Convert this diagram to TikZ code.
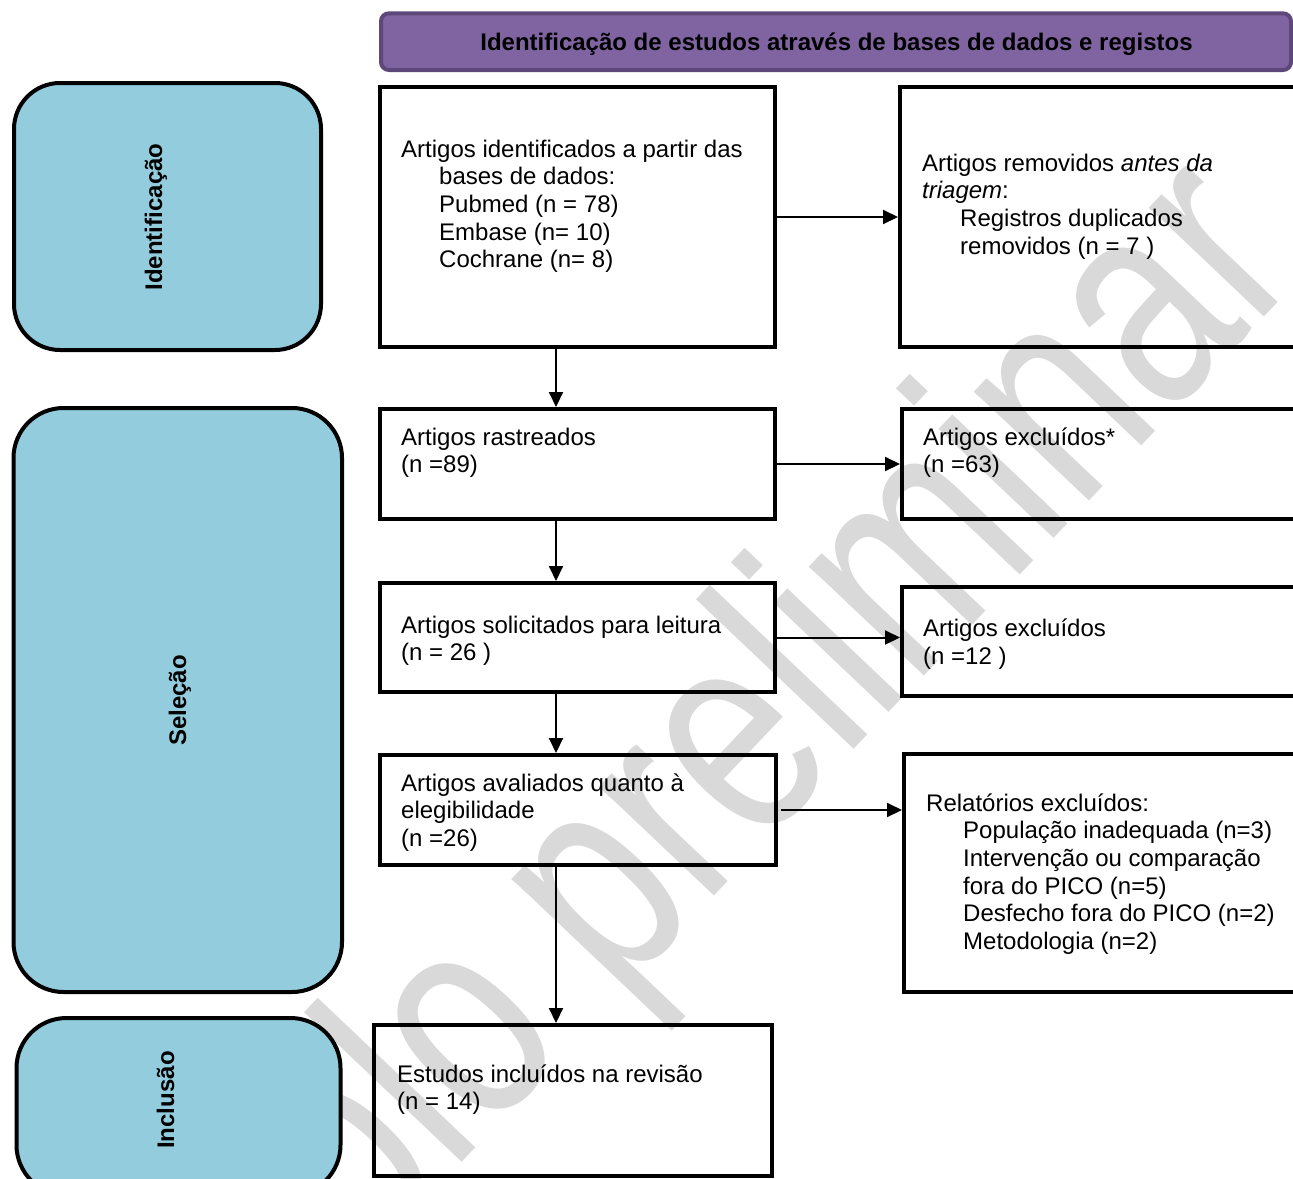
\documentclass[tikz,border=0pt]{standalone}
\usepackage{fontspec}
\usepackage{graphicx}
\setmainfont{Liberation Sans}
\usetikzlibrary{arrows.meta}
\definecolor{bluebox}{RGB}{147,205,221}
\definecolor{purplebox}{RGB}{128,100,162}
\definecolor{purpleline}{RGB}{94,72,122}
\definecolor{wmgray}{RGB}{217,217,217}
\begin{document}
\begin{tikzpicture}[x=1pt,y=-1pt,
  wbox/.style={draw=black, line width=4pt, inner sep=0pt},
  bbox/.style={draw=black, fill=bluebox, line width=4pt, rounded corners=46pt, inner sep=0pt},
  txt/.style={inner sep=0pt, anchor=base west, align=left, font=\fontsize{24}{27.7}\selectfont},
  lbl/.style={inner sep=0pt, anchor=base, rotate=90, font=\fontsize{24}{28}\selectfont\bfseries},
  arr/.style={draw=black, line width=2pt, -{Triangle[length=15pt,width=14pt]}},
  wm/.style={inner sep=0pt, text=wmgray, font=\fontsize{300}{300}\selectfont}
]
\useasboundingbox (0,0) rectangle (1293,1178);
\clip (0,0) rectangle (1293,1178);

% watermark
\node[wm, rotate=46.5, anchor=base east] (wmk) at (1306,273) {\scalebox{0.76}[1]{Protocolo preliminar}};

% header
\node[draw=purpleline, fill=purplebox, line width=4pt, rounded corners=8pt,
      minimum width=910pt, minimum height=56.7pt, inner sep=0pt] (hdr) at (836,41.65) {};
\node[inner sep=0pt, anchor=base, font=\fontsize{24}{28}\selectfont\bfseries] (hdrt) at (836.5,50)
  {Identificação de estudos através de bases de dados e registos};

% phase boxes
\node[bbox, minimum width=307pt, minimum height=267pt] (ident) at (167.5,216.5) {};
\node[lbl] (identl) at (162,217) {Identificação};
\node[bbox, rounded corners=50pt, minimum width=328.5pt, minimum height=584pt] (sel) at (177.75,700) {};
\node[lbl] (sell) at (186,700.5) {Seleção};
\node[bbox, rounded corners=50pt, minimum width=324pt, minimum height=177pt] (incl) at (178.5,1106.5) {};
\node[lbl] (incll) at (174,1100) {Inclusão};

% flow boxes
\node[wbox, minimum width=395.5pt, minimum height=260pt] (a) at (577.25,217) {};
\node[wbox, minimum width=420pt, minimum height=260pt] (f) at (1110,217) {};
\node[wbox, minimum width=395.5pt, minimum height=110pt] (b) at (577.25,464) {};
\node[wbox, minimum width=418pt, minimum height=110pt] (g) at (1111,464) {};
\node[wbox, minimum width=395.5pt, minimum height=109pt] (c) at (577.25,637.5) {};
\node[wbox, minimum width=418pt, minimum height=109.5pt] (h) at (1111,641.25) {};
\node[wbox, minimum width=396.5pt, minimum height=110pt] (d) at (577.75,810) {};
\node[wbox, minimum width=416pt, minimum height=238pt] (i) at (1112,873) {};
\node[wbox, minimum width=398pt, minimum height=151pt] (e) at (573,1100.5) {};

% texts (anchored at the baseline of their last line)
\node[txt] (at) at (401,267.8) {Artigos identificados a partir das\\\hspace*{38pt}bases de dados:\\\hspace*{38pt}Pubmed (n = 78)\\\hspace*{38pt}Embase (n= 10)\\\hspace*{38pt}Cochrane (n= 8)};
\node[txt] (ft) at (922,254.1) {Artigos removidos \textit{antes da}\\\textit{triagem}:\\\hspace*{38pt}Registros duplicados\\\hspace*{38pt}removidos (n = 7 )};
\node[txt] (bt) at (401,472.7) {Artigos rastreados\\(n =89)};
\node[txt] (gt) at (923,472.7) {Artigos excluídos*\\(n =63)};
\node[txt] (ct) at (401,660.7) {Artigos solicitados para leitura\\(n = 26 )};
\node[txt] (ht) at (923,664) {Artigos excluídos\\(n =12 )};
\node[txt] (dt) at (401,846.4) {Artigos avaliados quanto à\\elegibilidade\\(n =26)};
\node[txt] (it) at (926,949.5) {Relatórios excluídos:\\\hspace*{37pt}População inadequada (n=3)\\\hspace*{37pt}Intervenção ou comparação\\\hspace*{37pt}fora do PICO (n=5)\\\hspace*{37pt}Desfecho fora do PICO (n=2)\\\hspace*{37pt}Metodologia (n=2)};
\node[txt] (et) at (397,1109.7) {Estudos incluídos na revisão\\(n = 14)};

% connectors
\coordinate (vx) at (556,0);
\draw[arr] (a.east) -- (a.east -| f.west);
\draw[arr] (vx |- a.south) -- (vx |- b.north);
\draw[arr] (b.east) -- (b.east -| g.west);
\draw[arr] (vx |- b.south) -- (vx |- c.north);
\draw[arr] (c.east) -- (c.east -| h.west);
\draw[arr] (vx |- c.south) -- (vx |- d.north);
\draw[arr, shorten <=3pt] (d.east) -- (d.east -| i.west);
\draw[arr] (vx |- d.south) -- (vx |- e.north);
\end{tikzpicture}
\end{document}
